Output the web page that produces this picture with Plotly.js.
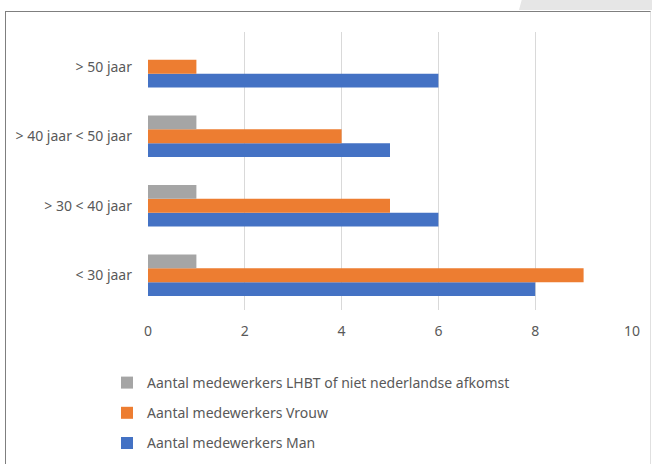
<!DOCTYPE html>
<html>
<head>
<meta charset="utf-8">
<script src="https://cdn.plot.ly/plotly-3.0.1.min.js"></script>
<style>
  html, body { margin:0; padding:0; background:#fff; }
  #wrap { position:relative; width:652px; height:464px; overflow:hidden; background:#fff; }
  #tab { position:absolute; left:519px; top:0; width:140px; height:10px; background:#e6e6e6; transform:skewX(-15deg); transform-origin:bottom left; }
  #frame { position:absolute; left:5px; top:11px; width:644px; height:470px; border-top:1px solid #7f7f7f; border-left:1px solid #7f7f7f; border-right:1px solid #e0e0e0; }
  #chart { position:absolute; left:0; top:0; width:652px; height:464px; }
</style>
</head>
<body>
<div id="wrap">
  <div id="tab"></div>
  <div id="frame"></div>
  <div id="chart"></div>
</div>
<script>
const categories = ["< 30 jaar", "> 30 < 40 jaar", "> 40 jaar < 50 jaar", "> 50 jaar"];
const seriesNames = ["Aantal medewerkers Man", "Aantal medewerkers Vrouw", "Aantal medewerkers LHBT of niet nederlandse afkomst"];
const manValues = [8, 6, 5, 6];
const vrouwValues = [9, 5, 4, 1];
const lhbtValues = [1, 1, 1, 0];
const xTickValues = [0, 2, 4, 6, 8, 10];

const colors = ["#4472C4", "#ED7D31", "#A5A5A5"];
const allValues = [manValues, vrouwValues, lhbtValues];
const font = "Noto Sans, Open Sans, sans-serif";

const traces = allValues.map((vals, i) => ({
  type: "bar",
  orientation: "h",
  name: seriesNames[i],
  x: vals,
  y: categories,
  marker: { color: colors[i] },
  legendgroup: "g" + i,
  legendrank: 3 - i,
  hoverinfo: "x+name"
}));

const layout = {
  width: 652,
  height: 464,
  paper_bgcolor: "rgba(0,0,0,0)",
  plot_bgcolor: "rgba(0,0,0,0)",
  margin: { l: 148, r: 20, t: 32, b: 154, autoexpand: false },
  barmode: "group",
  bargap: 0.4,
  bargroupgap: 0,
  font: { family: font, size: 14, color: "#595959" },
  xaxis: {
    range: [0, 10],
    tickvals: xTickValues,
    ticktext: xTickValues.map(String),
    showgrid: true,
    gridcolor: "#d9d9d9",
    gridwidth: 1,
    zeroline: false,
    showline: false,
    ticks: "",
    ticklabelstandoff: 11,
    automargin: false,
    tickfont: { family: font, size: 14, color: "#595959" },
    fixedrange: true
  },
  yaxis: {
    type: "category",
    categoryorder: "array",
    categoryarray: categories,
    showgrid: false,
    zeroline: false,
    showline: false,
    ticks: "",
    ticklabelstandoff: 15,
    automargin: false,
    tickfont: { family: font, size: 14, color: "#595959" },
    fixedrange: true
  },
  showlegend: true,
  legend: {
    orientation: "v",
    traceorder: "grouped",
    tracegroupgap: 9,
    x: 107/652,
    xref: "container",
    xanchor: "left",
    yref: "container",
    y: 1 - 367/464,
    yanchor: "top",
    itemwidth: 30,
    font: { family: font, size: 14, color: "#595959" },
    bgcolor: "rgba(0,0,0,0)",
    itemclick: false,
    itemdoubleclick: false
  }
};

Plotly.newPlot("chart", traces, layout, { displayModeBar: false, staticPlot: true });
</script>
</body>
</html>
